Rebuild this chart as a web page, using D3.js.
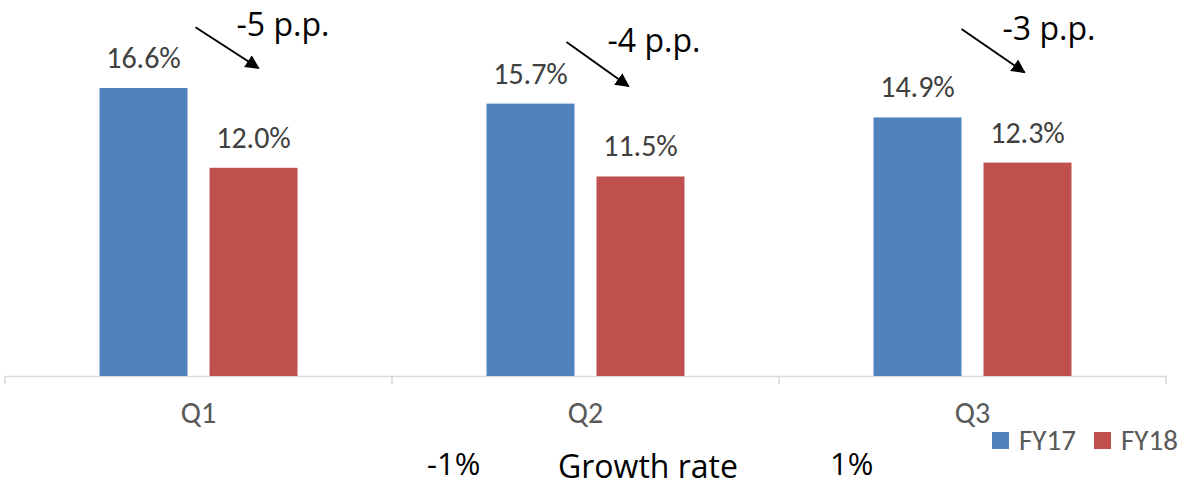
<!DOCTYPE html>
<html>
<head>
<meta charset="utf-8">
<script src="https://cdn.jsdelivr.net/npm/d3@7"></script>
<style>
  body { margin: 0; background: #fff; }
  text { font-family: Carlito, Calibri, Lato, sans-serif; }
  text.note { font-family: "Open Sans", "Segoe UI", sans-serif; }
</style>
</head>
<body>
<div id="chart"></div>
<script>
// data
quarters = ['Q1', 'Q2', 'Q3'];
series = ['FY17', 'FY18'];
fy17 = [16.6, 15.7, 14.9];
fy18 = [12.0, 11.5, 12.3];
change_labels = ['-5 p.p.', '-4 p.p.', '-3 p.p.'];
// arrow start/end in value units, x offsets relative to quarter centre
arrow_from = [20.1, 19.25, 20.0];
arrow_to = [17.75, 16.7, 17.5];
arrow_dx0 = [-3, -19, -11];
arrow_dx1 = [60, 43, 52];
label_dx = [38, 22, 30];
label_y = [19.6, 18.65, 19.35];

// chart settings
chart_width = 1182;
chart_height = 487;
colors = { FY17: '#4f81bd', FY18: '#c0504d' };

// scales
x0 = d3.scaleBand().domain(quarters).range([5, 1166]);
x1 = d3.scaleBand().domain(series).range([0, 198]).paddingInner(0.2);
y = d3.scaleLinear().domain([0, 20]).range([376, 29]);
center = (q) => x0(q) + x0.bandwidth() / 2;

var svg = d3.select('#chart')
	.append('svg')
	.attr('width', chart_width)
	.attr('height', chart_height);

svg.append('defs').append('marker')
	.attr('id', 'arrow')
	.attr('viewBox', '0 0 10 10')
	.attr('refX', 9).attr('refY', 5)
	.attr('markerWidth', 7).attr('markerHeight', 7)
	.attr('markerUnits', 'strokeWidth')
	.attr('orient', 'auto')
	.append('path')
	.attr('d', 'M0,0 L10,5 L0,10 z')
	.attr('fill', '#000');

// x axis
var axis = svg.append('g')
	.attr('transform', 'translate(0,' + y(0) + ')')
	.call(d3.axisBottom(x0).tickSize(0).tickSizeOuter(0).tickPadding(26));
axis.select('.domain').attr('stroke', '#d9d9d9').attr('stroke-width', 1.5);
axis.selectAll('text').attr('font-size', 30).attr('fill', '#595959')
	.style('font-family', 'Carlito, Calibri, Lato, sans-serif');
// category separators
svg.selectAll('line.sep')
	.data(quarters.concat(['end']))
	.enter()
	.append('line')
	.attr('class', 'sep')
	.attr('x1', (d, i) => i < 3 ? x0(d) : x0.range()[1])
	.attr('x2', (d, i) => i < 3 ? x0(d) : x0.range()[1])
	.attr('y1', y(0)).attr('y2', y(0) + 8)
	.attr('stroke', '#d9d9d9').attr('stroke-width', 1.5);

// bars
rows = quarters.map((q, i) => ({ q: q, FY17: fy17[i], FY18: fy18[i] }));
var groups = svg.selectAll('g.quarter')
	.data(rows)
	.enter()
	.append('g')
	.attr('class', 'quarter')
	.attr('transform', (d) => 'translate(' + (center(d.q) - 99) + ',0)');

groups.selectAll('rect')
	.data((d) => series.map((s) => ({ s: s, v: d[s] })))
	.enter()
	.append('rect')
	.attr('x', (d) => x1(d.s))
	.attr('y', (d) => y(d.v))
	.attr('width', x1.bandwidth())
	.attr('height', (d) => y(0) - y(d.v))
	.attr('fill', (d) => colors[d.s]);

groups.selectAll('text')
	.data((d) => series.map((s) => ({ s: s, v: d[s] })))
	.enter()
	.append('text')
	.attr('x', (d) => x1(d.s) + x1.bandwidth() / 2)
	.attr('y', (d) => y(d.v) - 20)
	.attr('text-anchor', 'middle')
	.attr('font-size', 30)
	.attr('fill', '#404040')
	.text((d) => d.v.toFixed(1) + '%');

// change arrows
quarters.forEach((q, i) => {
	svg.append('line')
		.attr('x1', center(q) + arrow_dx0[i])
		.attr('y1', y(arrow_from[i]))
		.attr('x2', center(q) + arrow_dx1[i])
		.attr('y2', y(arrow_to[i]))
		.attr('stroke', '#000')
		.attr('stroke-width', 2)
		.attr('marker-end', 'url(#arrow)');
	svg.append('text')
		.attr('class', 'note')
		.attr('x', center(q) + label_dx[i])
		.attr('y', y(label_y[i]))
		.attr('font-size', 32)
		.attr('fill', '#000')
		.text(change_labels[i]);
});

// legend
var legend = svg.append('g').attr('transform', 'translate(992,432)');
series.forEach((s, i) => {
	legend.append('rect')
		.attr('x', i * 102).attr('y', 0)
		.attr('width', 17).attr('height', 17)
		.attr('fill', colors[s]);
	legend.append('text')
		.attr('x', i * 102 + 27).attr('y', 18)
		.attr('font-size', 29)
		.attr('fill', '#595959')
		.text(s);
});

// bottom notes
svg.append('text').attr('class', 'note').attr('x', 427).attr('y', 475).attr('font-size', 31).text('-1%');
svg.append('text').attr('class', 'note').attr('x', 558).attr('y', 478).attr('font-size', 32).text('Growth rate');
svg.append('text').attr('class', 'note').attr('x', 830).attr('y', 475).attr('font-size', 31).text('1%');
</script>
</body>
</html>
